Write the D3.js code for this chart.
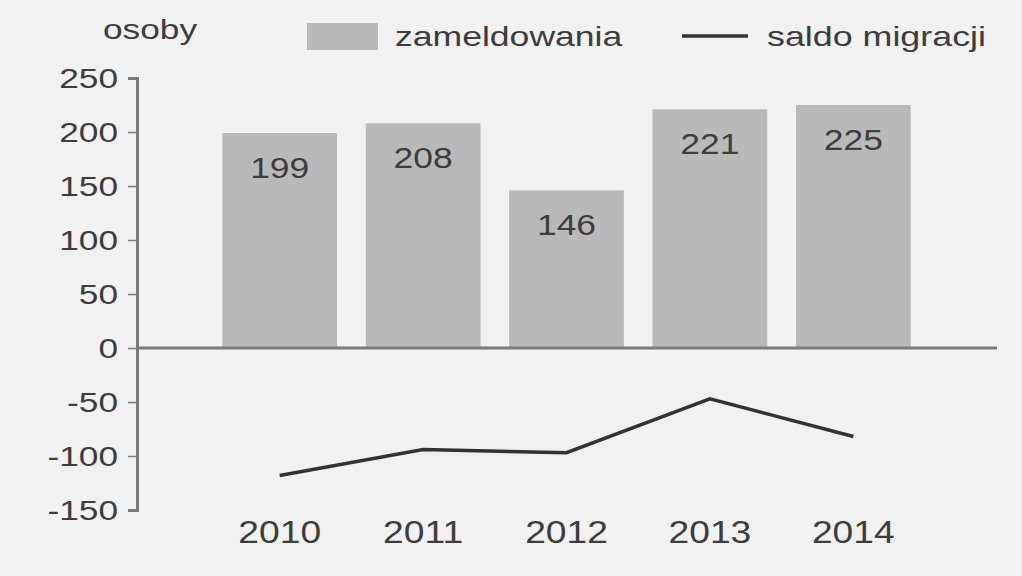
<!DOCTYPE html>
<html>
<head>
<meta charset="utf-8">
<script src="https://cdn.jsdelivr.net/npm/d3@7"></script>
<style>
  body { margin: 0; background: #f1f1f1; }
  svg { display: block; font-family: "Liberation Sans", Arial, sans-serif; }
  text { fill: #3d3d3d; }
</style>
</head>
<body>
<div id="chart"></div>
<script>
// zameldowania i saldo migracji, osoby
var years = ["2010", "2011", "2012", "2013", "2014"];
var zameldowania = [199, 208, 146, 221, 225];
var saldo = [-118, -94, -97, -47, -82];
var yTicks = [250, 200, 150, 100, 50, 0, -50, -100, -150];

var width = 1022, height = 576;

// the scanned text is a bit wider than plain Arial, stretch it around its anchor
function stretch(sel, s) {
  sel.each(function() {
    var t = d3.select(this);
    var ax = +t.attr("x") || 0;
    t.attr("transform", "translate(" + ax + ",0) scale(" + s + ",1) translate(" + (-ax) + ",0)");
  });
}

var svg = d3.select("#chart").append("svg")
    .attr("width", width)
    .attr("height", height);

svg.append("rect")
    .attr("width", width)
    .attr("height", height)
    .attr("fill", "#f1f1f1");

var x = d3.scaleBand()
    .domain(years)
    .range([208, 925])
    .paddingInner(0.2)
    .paddingOuter(0.1);

var y = d3.scaleLinear()
    .domain([-150, 250])
    .range([510, 78]);

var axisX = 137;

// bars
svg.selectAll(".bar")
    .data(years)
  .enter().append("rect")
    .attr("class", "bar")
    .attr("x", function(d) { return x(d); })
    .attr("width", x.bandwidth())
    .attr("y", function(d, i) { return y(zameldowania[i]); })
    .attr("height", function(d, i) { return y(0) - y(zameldowania[i]); })
    .attr("fill", "#b9b9b9");

svg.selectAll(".bar-label")
    .data(years)
  .enter().append("text")
    .attr("class", "bar-label")
    .attr("x", function(d) { return x(d) + x.bandwidth() / 2; })
    .attr("y", function(d, i) { return y(zameldowania[i]) + 45; })
    .attr("text-anchor", "middle")
    .style("font-size", "30px")
    .text(function(d, i) { return zameldowania[i]; })
    .call(stretch, 1.18);

// y axis
var yAxis = d3.axisLeft(y)
    .tickValues(yTicks)
    .tickFormat(function(d) { return String(d); })
    .tickSize(9)
    .tickPadding(10)
    .tickSizeOuter(9);

var gy = svg.append("g")
    .attr("transform", "translate(" + axisX + ",0)")
    .call(yAxis);
gy.select(".domain").attr("stroke", "#7a7a7a").attr("stroke-width", 3);
gy.selectAll(".tick line").attr("stroke", "#7a7a7a").attr("stroke-width", 1.5);
gy.selectAll(".tick text")
    .attr("dy", "0.35em")
    .attr("fill", "#3d3d3d")
    .style("font-size", "28px")
    .call(stretch, 1.26);

// zero line
svg.append("line")
    .attr("x1", axisX)
    .attr("x2", 997)
    .attr("y1", y(0))
    .attr("y2", y(0))
    .attr("stroke", "#7a7a7a")
    .attr("stroke-width", 3);

// x labels
var xAxis = d3.axisBottom(x).tickSize(0).tickPadding(0);
var gx = svg.append("g")
    .attr("transform", "translate(0,521)")
    .call(xAxis);
gx.select(".domain").remove();
gx.selectAll(".tick text")
    .attr("fill", "#3d3d3d")
    .style("font-size", "31px")
    .call(stretch, 1.2);

// line
var line = d3.line()
    .x(function(d, i) { return x(years[i]) + x.bandwidth() / 2; })
    .y(function(d) { return y(d); });

svg.append("path")
    .datum(saldo)
    .attr("fill", "none")
    .attr("stroke", "#333")
    .attr("stroke-width", 3.5)
    .attr("d", line);

// unit label and legend
svg.append("text")
    .attr("x", 103)
    .attr("y", 39)
    .style("font-size", "28px")
    .text("osoby")
    .call(stretch, 1.26);

svg.append("rect")
    .attr("x", 307)
    .attr("y", 23)
    .attr("width", 71)
    .attr("height", 27)
    .attr("fill", "#b9b9b9");

svg.append("text")
    .attr("x", 395)
    .attr("y", 46)
    .style("font-size", "28px")
    .text("zameldowania")
    .call(stretch, 1.27);

svg.append("line")
    .attr("x1", 682)
    .attr("x2", 748)
    .attr("y1", 36)
    .attr("y2", 36)
    .attr("stroke", "#333")
    .attr("stroke-width", 3.5);

svg.append("text")
    .attr("x", 767)
    .attr("y", 46)
    .style("font-size", "28px")
    .text("saldo migracji")
    .call(stretch, 1.28);
</script>
</body>
</html>
